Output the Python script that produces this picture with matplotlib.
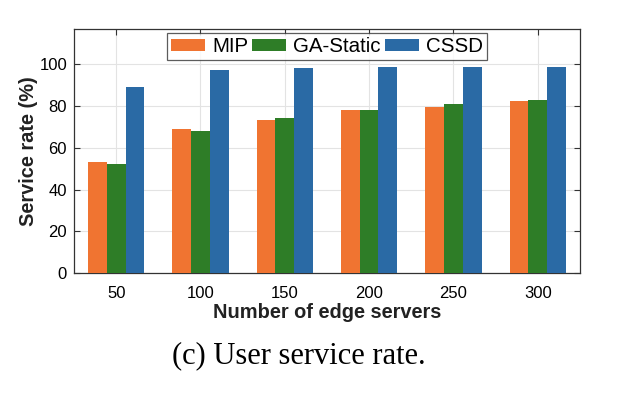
import numpy as np
import matplotlib
matplotlib.use('Agg')
from matplotlib import pyplot as plt

# data
servers = ['50', '100', '150', '200', '250', '300']
mip = [53.3, 69.0, 73.6, 78.2, 79.5, 82.7]
ga_static = [52.3, 68.0, 74.4, 78.2, 81.1, 83.0]
cssd = [89.3, 97.1, 98.1, 98.6, 98.7, 98.7]

plt.rcParams['font.family'] = ['Liberation Sans', 'DejaVu Sans']

fig = plt.figure(figsize=(6.3, 3.96), dpi=100)
ax = fig.add_axes([0.1175, 0.3106, 0.803, 0.6162])

x = np.arange(len(servers))
w = 0.222
ax.bar(x - w, mip, w, color='#F07431', label='MIP', zorder=3)
ax.bar(x, ga_static, w, color='#2E7D27', label='GA-Static', zorder=3)
ax.bar(x + w, cssd, w, color='#2A6AA5', label='CSSD', zorder=3)

ax.set_xlim(-0.5, len(servers) - 0.5)
ax.set_ylim(0, 117)
ax.set_xticks(x)
ax.set_xticklabels(servers)
ax.set_yticks(range(0, 101, 20))
ax.tick_params(direction='in', top=True, right=True, labelsize=12, length=4,
               color='#333333')
ax.tick_params(axis='x', pad=9.5)
ax.tick_params(axis='y', pad=5)
ax.grid(True, color='#e3e3e3', linewidth=0.8, zorder=0)
for s in ax.spines.values():
    s.set_color('#333333')
    s.set_linewidth(0.9)

ax.set_xlabel('Number of edge servers', fontsize=14.4, fontweight='bold', color='#222222', labelpad=1)
ax.set_ylabel('Service rate (%)', fontsize=14.4, fontweight='bold', color='#222222', labelpad=1)

leg = ax.legend(loc='upper center', ncol=3, fontsize=14.8, frameon=True, fancybox=False,
                edgecolor='#333333', handlelength=1.65, handleheight=0.58, handletextpad=0.34,
                columnspacing=0.2, borderpad=0.2, borderaxespad=0.2)
leg.get_frame().set_linewidth(0.9)

fig.text(0.475, 0.0833, '(c) User service rate.', ha='center', va='baseline', fontsize=22,
         family=['Liberation Serif', 'DejaVu Serif'])

fig.savefig('out.png', dpi=100, facecolor='white')
